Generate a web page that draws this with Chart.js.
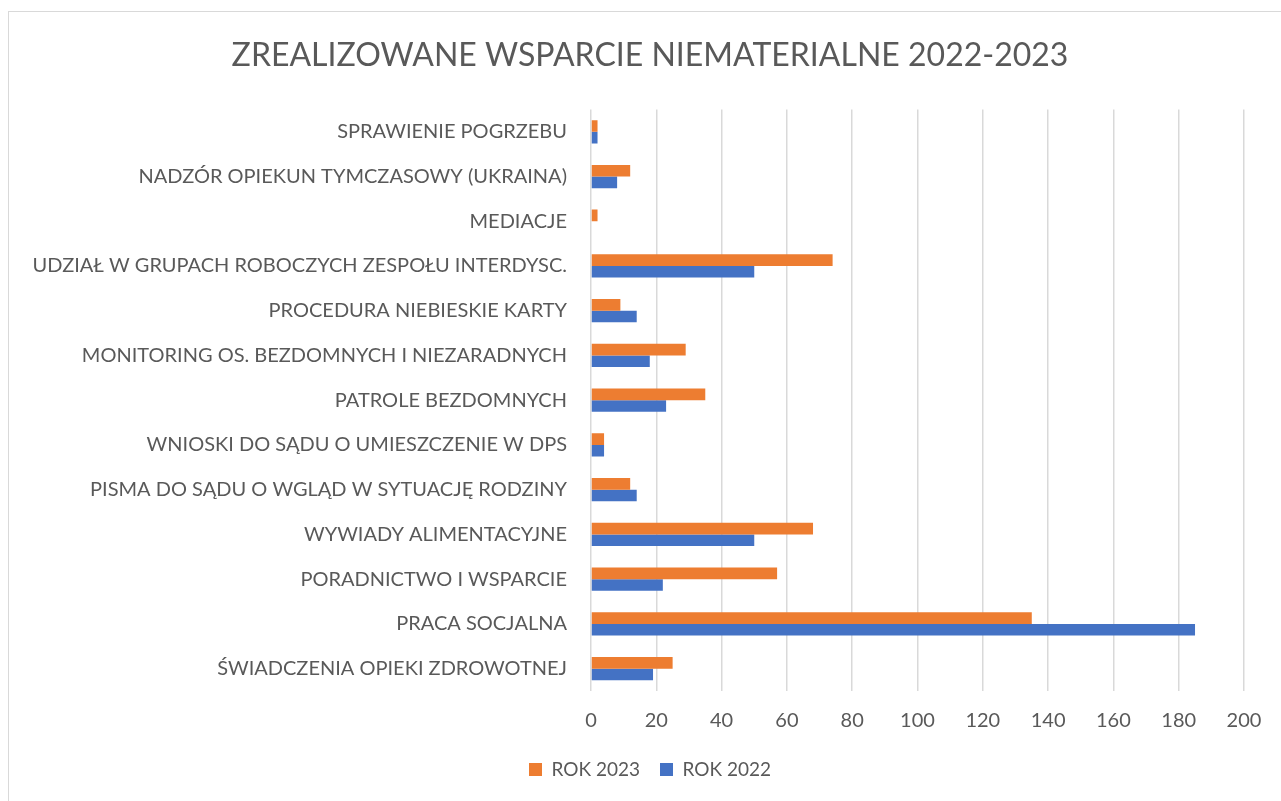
<!DOCTYPE html>
<html>
<head>
<meta charset="utf-8">
<script src="https://cdn.jsdelivr.net/npm/chart.js@4/dist/chart.umd.min.js"></script>
<style>
  html, body { margin: 0; padding: 0; background: #ffffff; overflow: hidden; }
  #wrap { position: relative; width: 1281px; height: 801px; }
  #frame { position: absolute; left: 8px; top: 11px; width: 1300px; height: 820px; border: 1.5px solid #d9d9d9; box-sizing: border-box; }
  canvas { position: absolute; left: 0; top: 0; }
</style>
</head>
<body>
<div id="wrap">
  <div id="frame"></div>
  <canvas id="c" width="1281" height="801"></canvas>
</div>
<script>
const categories = [
  "SPRAWIENIE POGRZEBU",
  "NADZÓR OPIEKUN TYMCZASOWY (UKRAINA)",
  "MEDIACJE",
  "UDZIAŁ W GRUPACH ROBOCZYCH ZESPOŁU INTERDYSC.",
  "PROCEDURA NIEBIESKIE KARTY",
  "MONITORING OS. BEZDOMNYCH I NIEZARADNYCH",
  "PATROLE BEZDOMNYCH",
  "WNIOSKI DO SĄDU O UMIESZCZENIE W DPS",
  "PISMA DO SĄDU O WGLĄD W SYTUACJĘ RODZINY",
  "WYWIADY ALIMENTACYJNE",
  "PORADNICTWO I WSPARCIE",
  "PRACA SOCJALNA",
  "ŚWIADCZENIA OPIEKI ZDROWOTNEJ"
];
const rok2023 = [2, 12, 2, 74, 9, 29, 35, 4, 12, 68, 57, 135, 25];
const rok2022 = [2, 8, 0, 50, 14, 18, 23, 4, 14, 50, 22, 185, 19];
const seriesNames = ["ROK 2023", "ROK 2022"];
const chartTitle = "ZREALIZOWANE WSPARCIE NIEMATERIALNE 2022-2023";
const xMin = 0, xMax = 200, xStep = 20;

const FONT = "Lato";
const TXT = "#595959";

new Chart(document.getElementById("c"), {
  type: "bar",
  data: {
    labels: categories,
    datasets: [
      { label: seriesNames[0], data: rok2023, backgroundColor: "#ED7D31", categoryPercentage: 0.52, barPercentage: 1.0 },
      { label: seriesNames[1], data: rok2022, backgroundColor: "#4472C4", categoryPercentage: 0.52, barPercentage: 1.0 }
    ]
  },
  options: {
    indexAxis: "y",
    responsive: false,
    animation: false,
    devicePixelRatio: 1,
    layout: { padding: { left: 19, right: 0, top: 0, bottom: 12 } },
    plugins: {
      title: {
        display: true,
        text: chartTitle,
        color: TXT,
        font: { family: FONT, size: 32, weight: "normal" },
        padding: { top: 36, bottom: 35 }
      },
      legend: {
        position: "bottom",
        labels: {
          color: TXT,
          font: { family: FONT, size: 19 },
          boxWidth: 13,
          boxHeight: 13,
          padding: 20
        }
      },
      tooltip: { enabled: false }
    },
    scales: {
      x: {
        min: xMin, max: xMax,
        ticks: { stepSize: xStep, color: TXT, font: { family: FONT, size: 20 }, padding: 18 },
        grid: { color: "#d9d9d9", lineWidth: 1.5, drawTicks: false },
        border: { display: false },
        afterFit: function (s) { s.height = s.height - 11; }
      },
      y: {
        ticks: { color: TXT, font: { family: FONT, size: 20 }, padding: 24, autoSkip: false },
        grid: { display: false, drawTicks: false },
        border: { display: false },
        afterFit: function (s) { s.width = 572; }
      },
      yr: {
        type: "category",
        position: "right",
        display: true,
        ticks: { display: false },
        grid: { display: false, drawTicks: false },
        border: { display: false },
        afterFit: function (s) { s.width = 37; }
      }
    }
  }
});
</script>
</body>
</html>
